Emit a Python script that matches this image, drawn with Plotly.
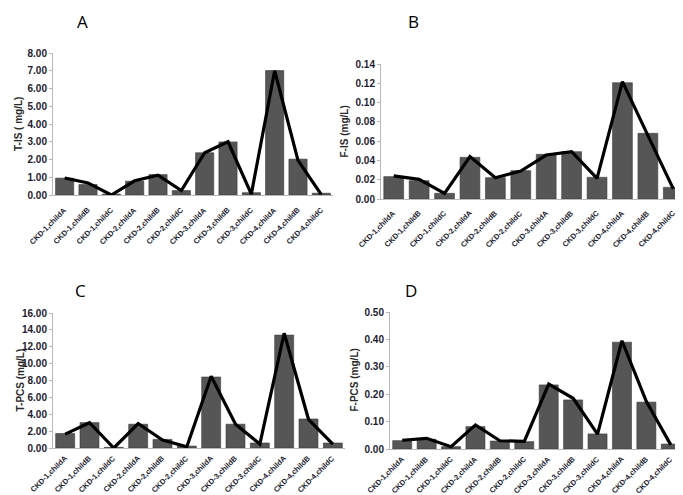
import plotly.graph_objects as go

categories = ["CKD-1,childA", "CKD-1,childB", "CKD-1,childC",
              "CKD-2,childA", "CKD-2,childB", "CKD-2,childC",
              "CKD-3,childA", "CKD-3,childB", "CKD-3,childC",
              "CKD-4,childA", "CKD-4,childB", "CKD-4,childC"]

t_is_bars = [0.95, 0.59, 0.05, 0.78, 1.15, 0.25, 2.38, 2.99, 0.13, 7.01, 2.02, 0.10]
t_is_line = [0.96, 0.68, 0.00, 0.80, 1.12, 0.25, 2.38, 3.00, 0.05, 7.00, 1.95, 0.02]

f_is_bars = [0.0232, 0.0190, 0.0059, 0.0432, 0.0221, 0.0294, 0.0463, 0.0491, 0.0225, 0.1206, 0.0681, 0.0121]
f_is_line = [0.0239, 0.0204, 0.0059, 0.0440, 0.0221, 0.0290, 0.0456, 0.0490, 0.0214, 0.1217, 0.0660, 0.0105]

t_pcs_bars = [1.72, 3.01, 0.08, 2.82, 1.02, 0.23, 8.41, 2.82, 0.59, 13.38, 3.44, 0.59]
t_pcs_line = [1.65, 3.00, 0.00, 2.90, 0.95, 0.15, 8.50, 2.82, 0.47, 13.60, 3.40, 0.47]

f_pcs_bars = [0.0305, 0.0354, 0.0085, 0.0817, 0.0290, 0.0270, 0.234, 0.179, 0.055, 0.390, 0.171, 0.018]
f_pcs_line = [0.032, 0.039, 0.0085, 0.088, 0.030, 0.028, 0.237, 0.185, 0.054, 0.395, 0.173, 0.015]

panel_letters = ["A", "B", "C", "D"]
y_titles = ["T-IS ( mg/L)", "F-IS (mg/L)", "T-PCS (mg/L)", "F-PCS (mg/L)"]
y_ranges = [(0, 8), (0, 0.14), (0, 16), (0, 0.5)]
y_dticks = [1, 0.02, 2, 0.1]

W, H = 683, 495
# pixel geometry of each plot area: (left, right, top, bottom)
boxes = [(45, 325, 45, 187), (373, 678, 56, 191), (45, 337, 305, 440), (382, 675, 304, 441)]
label_gap = [9, 8, 4, 4]
letter_pos = [(74, 0), (405, 0), (72, 269), (403, 269)]
ytitle_x = [11, 336, 12, 346]

bars = [t_is_bars, f_is_bars, t_pcs_bars, f_pcs_bars]
lines = [t_is_line, f_is_line, t_pcs_line, f_pcs_line]

fig = go.Figure()
layout = dict(width=W, height=H, margin=dict(l=0, r=0, t=0, b=0),
              paper_bgcolor="white", plot_bgcolor="white", showlegend=False,
              bargap=0.22, annotations=[])

tickfont = dict(family="Liberation Sans", size=10, color="#1c1c30", weight="bold")
label_font = dict(family="Liberation Sans", size=7.5, color="#1c1c30", weight="bold")

for i in range(4):
    sfx = "" if i == 0 else str(i + 1)
    xa, ya = "x" + sfx, "y" + sfx
    l, r, t, b = boxes[i]
    fig.add_trace(go.Bar(x=categories, y=bars[i], xaxis=xa, yaxis=ya,
                         marker=dict(color="#565656", line=dict(color="#3a3a3a", width=0.6))))
    fig.add_trace(go.Scatter(x=categories, y=lines[i], xaxis=xa, yaxis=ya, mode="lines",
                             line=dict(color="black", width=3.2)))
    layout["xaxis" + sfx] = dict(domain=[l / W, r / W], anchor=ya, type="category",
                                 categoryorder="array", categoryarray=categories,
                                 range=[-0.5, len(categories) - 0.5], autorange=False,
                                 showline=True, linecolor="#b8b8b8", linewidth=1,
                                 ticks="", showticklabels=False,
                                 showgrid=False, automargin=False, fixedrange=True)
    layout["yaxis" + sfx] = dict(domain=[1 - b / H, 1 - t / H], anchor=xa,
                                 range=list(y_ranges[i]), autorange=False,
                                 dtick=y_dticks[i], tick0=0,
                                 tickformat=".2f", showline=True, linecolor="#b8b8b8",
                                 linewidth=1, ticks="outside", ticklen=3, tickcolor="#b8b8b8",
                                 tickfont=tickfont, showgrid=False, zeroline=False,
                                 automargin=False, fixedrange=True)
    # rotated category labels, placed on the category axis
    for c in categories:
        layout["annotations"].append(dict(text=c, x=c, xref=xa, y=1 - (b + label_gap[i]) / H,
                                          yref="paper", showarrow=False, textangle=-45,
                                          xanchor="right", yanchor="top", xshift=6,
                                          borderpad=0, font=label_font))
    lx, ly = letter_pos[i]
    layout["annotations"].append(dict(text=panel_letters[i], x=lx / W, y=1 - ly / H,
                                      xref="paper", yref="paper", showarrow=False,
                                      xanchor="center", yanchor="top",
                                      font=dict(family="Open Sans", size=17, color="black")))
    layout["annotations"].append(dict(text=y_titles[i], x=ytitle_x[i] / W, y=1 - (t + b) / 2 / H,
                                      xref="paper", yref="paper", showarrow=False,
                                      textangle=-90, xanchor="center", yanchor="middle",
                                      font=dict(family="Liberation Sans", size=10,
                                                color="#2a2a2a", weight="bold")))

fig.update_layout(**layout)
fig.write_html("out.html")
